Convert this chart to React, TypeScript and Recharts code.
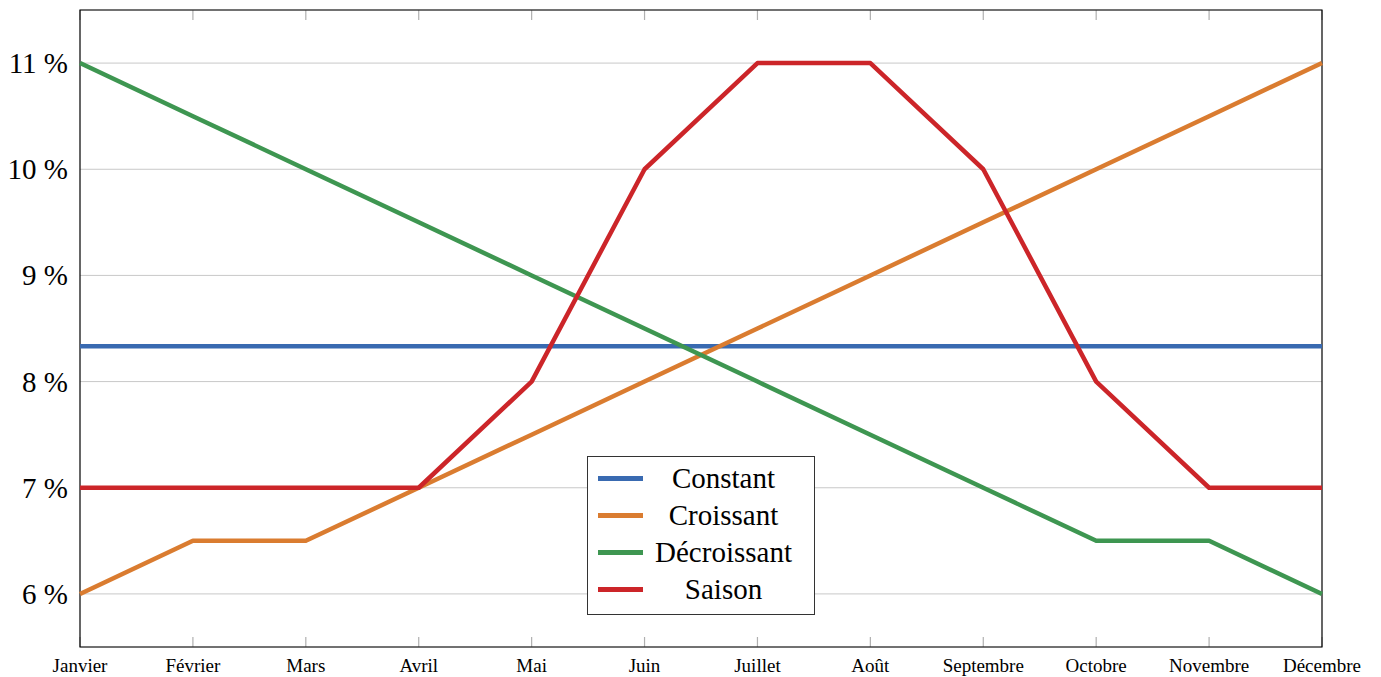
import React from 'react';
import { LineChart, Line, XAxis, YAxis, CartesianGrid, ReferenceArea } from 'recharts';

const months = ['Janvier', 'Février', 'Mars', 'Avril', 'Mai', 'Juin', 'Juillet', 'Août', 'Septembre', 'Octobre', 'Novembre', 'Décembre'];
const constant = [8.333, 8.333, 8.333, 8.333, 8.333, 8.333, 8.333, 8.333, 8.333, 8.333, 8.333, 8.333];
const croissant = [6, 6.5, 6.5, 7, 7.5, 8, 8.5, 9, 9.5, 10, 10.5, 11];
const decroissant = [11, 10.5, 10, 9.5, 9, 8.5, 8, 7.5, 7, 6.5, 6.5, 6];
const saison = [7, 7, 7, 7, 8, 10, 11, 11, 10, 8, 7, 7];
const yTicks = [6, 7, 8, 9, 10, 11];

const seriesInfo = [
  { key: 'Constant', color: '#396AB1' },
  { key: 'Croissant', color: '#DA7C30' },
  { key: 'Décroissant', color: '#3E9651' },
  { key: 'Saison', color: '#CC2529' },
];

const data = months.map((m, i) => ({
  month: m,
  Constant: constant[i],
  Croissant: croissant[i],
  'Décroissant': decroissant[i],
  Saison: saison[i],
}));

const FONT = '"Liberation Serif", "Times New Roman", serif';

const LegendBox = () => (
  <div
    style={{
      position: 'absolute',
      left: 587,
      top: 456,
      border: '1.5px solid #333',
      background: '#fff',
      width: 228,
      height: 159,
      boxSizing: 'border-box',
      padding: '3px 10px 0 10px',
      fontFamily: FONT,
      fontSize: 29,
      color: '#000',
    }}
  >
    {seriesInfo.map((s) => (
      <div key={s.key} style={{ display: 'flex', alignItems: 'center', height: 37 }}>
        <div style={{ width: 45, height: 5, background: s.color, flex: 'none' }} />
        <div style={{ flex: 1, textAlign: 'center', lineHeight: '37px' }}>{s.key}</div>
      </div>
    ))}
  </div>
);

const XTick = (props: any) => {
  const { x, y, payload } = props;
  return (
    <text x={x} y={y + 17} textAnchor="middle" fontFamily={FONT} fontSize={19} fill="#000">
      {payload.value}
    </text>
  );
};

const YTick = (props: any) => {
  const { x, y, payload } = props;
  return (
    <text x={x} y={y + 10} textAnchor="end" fontFamily={FONT} fontSize={29} fill="#000">
      {`${payload.value} %`}
    </text>
  );
};

export default function App() {
  return (
    <div style={{ position: 'absolute', left: 0, top: 0, width: 1381, height: 677, background: '#fff' }}>
      <LineChart width={1381} height={677} data={data} margin={{ top: 10, right: 59, bottom: 0, left: 0 }}>
        <CartesianGrid vertical={false} stroke="#c8c8c8" strokeWidth={1} />
        <CartesianGrid horizontal={false} stroke="#b0b0b0" strokeWidth={1.2} strokeDasharray="10 617 10" />
        <XAxis
          dataKey="month"
          height={30}
          axisLine={false}
          tickLine={false}
          tick={<XTick />}
          interval={0}
          padding={{ left: 0, right: 0 }}
        />
        <YAxis
          width={80}
          domain={[5.5, 11.5]}
          ticks={yTicks}
          axisLine={false}
          tickLine={false}
          tick={<YTick />}
          tickMargin={6}
          tickSize={6}
          type="number"
          allowDataOverflow
        />
        {seriesInfo.map((s) => (
          <Line
            key={s.key}
            dataKey={s.key}
            stroke={s.color}
            strokeWidth={4.5}
            dot={false}
            activeDot={false}
            isAnimationActive={false}
            strokeLinejoin="round"
          />
        ))}
        <ReferenceArea x1="Janvier" x2="Décembre" y1={5.5} y2={11.5} fill="none" stroke="#000" strokeWidth={1.2} ifOverflow="visible" />
      </LineChart>
      <LegendBox />
    </div>
  );
}
